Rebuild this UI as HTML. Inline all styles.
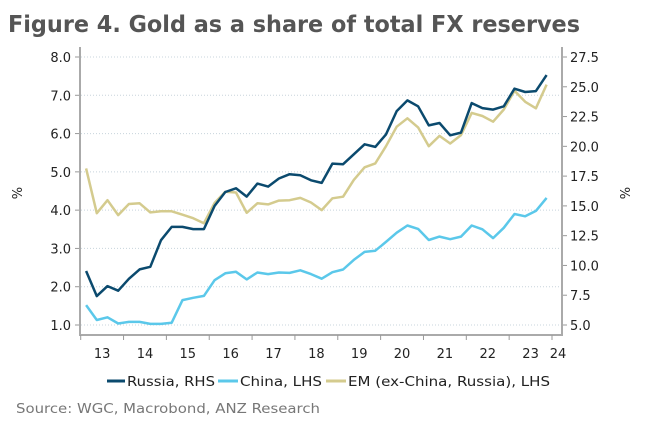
<!DOCTYPE html>
<html><head><meta charset="utf-8"><style>
html,body{margin:0;padding:0;background:#fff;}
svg{display:block;font-family:"DejaVu Sans","Liberation Sans",sans-serif;}
</style></head><body>
<svg id="chart" width="648" height="426" viewBox="0 0 648 426">
<text x="8" y="32" font-size="23" font-weight="bold" fill="#555" textLength="572" lengthAdjust="spacingAndGlyphs">Figure 4. Gold as a share of total FX reserves</text>
<g id="grid"></g>
<g id="axes"></g>
<g id="series"></g>
<text x="22" y="193" font-size="13" fill="#222" text-anchor="middle" transform="rotate(-90 22 193)">%</text>
<text x="630" y="193" font-size="13" fill="#222" text-anchor="middle" transform="rotate(-90 630 193)">%</text>
<g font-size="13" fill="#222">
<g><line x1="107" y1="381" x2="125" y2="381" stroke="#0b4a6e" stroke-width="3"/><text x="127" y="386" textLength="88" lengthAdjust="spacingAndGlyphs">Russia, RHS</text></g>
<g><line x1="218" y1="381" x2="238" y2="381" stroke="#5bc8ea" stroke-width="3"/><text x="240" y="386" textLength="82" lengthAdjust="spacingAndGlyphs">China, LHS</text></g>
<g><line x1="326" y1="381" x2="346" y2="381" stroke="#d4cb8e" stroke-width="3"/><text x="348" y="386" textLength="202" lengthAdjust="spacingAndGlyphs">EM (ex-China, Russia), LHS</text></g>
</g>
<text x="16" y="413" font-size="13" fill="#777" textLength="304" lengthAdjust="spacingAndGlyphs">Source: WGC, Macrobond, ANZ Research</text>
</svg>
<script>
const years = ["13","14","15","16","17","18","19","20","21","22","23","24"];
const leftTicks = [1,2,3,4,5,6,7,8];
const rightTicks = [5,7.5,10,12.5,15,17.5,20,22.5,25,27.5];
const russia = [9.53,7.43,8.27,7.88,8.88,9.67,9.89,12.12,13.24,13.24,13.05,13.05,15.0,16.17,16.48,15.78,16.87,16.62,17.3,17.66,17.57,17.15,16.93,18.55,18.5,19.33,20.17,19.95,21.0,22.96,23.86,23.36,21.76,21.96,20.93,21.15,23.63,23.21,23.08,23.36,24.84,24.56,24.64,25.98];
const china = [1.52,1.13,1.2,1.04,1.08,1.08,1.03,1.03,1.06,1.65,1.71,1.76,2.17,2.35,2.39,2.19,2.37,2.33,2.37,2.36,2.43,2.33,2.21,2.38,2.45,2.7,2.91,2.94,3.17,3.41,3.6,3.51,3.22,3.31,3.24,3.31,3.6,3.5,3.27,3.54,3.9,3.84,3.98,4.32];
const em = [5.09,3.92,4.26,3.87,4.16,4.18,3.94,3.97,3.97,3.88,3.79,3.66,4.19,4.48,4.46,3.93,4.18,4.15,4.25,4.26,4.32,4.2,4.0,4.31,4.35,4.79,5.12,5.22,5.67,6.18,6.4,6.16,5.67,5.94,5.74,5.96,6.54,6.46,6.31,6.63,7.12,6.83,6.66,7.28];

const NS="http://www.w3.org/2000/svg";
const X0=80.7, X1=552, T0=2013, T1=2024;
const yTop=57, yBot=325;
const xs=t=>X0+(t-T0)*(X1-X0)/(T1-T0);
const yl=v=>yBot-(v-1)*(yBot-yTop)/7;
const yr=v=>yBot-(v-5)*(yBot-yTop)/22.5;
function mk(tag,attrs,parent){const e=document.createElementNS(NS,tag);for(const k in attrs)e.setAttribute(k,attrs[k]);parent.appendChild(e);return e;}
const grid=document.getElementById('grid'),axes=document.getElementById('axes'),ser=document.getElementById('series');
leftTicks.forEach(v=>{
  const g=mk('line',{x1:81,x2:561,y1:yl(v),y2:yl(v),stroke:'#c8d4dc','stroke-width':1,'stroke-dasharray':'1,2'},grid);
  
  
  mk('line',{x1:75,x2:80,y1:yl(v),y2:yl(v),stroke:'#999'},axes);
  const t=mk('text',{x:71,y:yl(v)+5,'font-size':13,fill:'#222','text-anchor':'end'},axes);
  t.textContent=v.toFixed(1);
  
  
});
rightTicks.forEach(v=>{
  mk('line',{x1:562,x2:567,y1:yr(v),y2:yr(v),stroke:'#999'},axes);
  const t=mk('text',{x:570,y:yr(v)+5,'font-size':13,fill:'#222'},axes);
  t.textContent=v.toFixed(1);
  
  
});
mk('line',{x1:80,x2:80,y1:47,y2:335,stroke:'#aaa','stroke-width':2},axes);
mk('line',{x1:562,x2:562,y1:47,y2:335,stroke:'#aaa','stroke-width':2},axes);
mk('line',{x1:79,x2:563,y1:335,y2:335,stroke:'#aaa','stroke-width':2},axes);
years.forEach((y,i)=>{
  const t0=T0+i;
  mk('line',{x1:xs(t0),x2:xs(t0),y1:335,y2:340,stroke:'#999'},axes);
  const cx = (i < years.length-1) ? xs(t0+0.5) : xs(t0)+6;
  const t=mk('text',{x:cx,y:358,'font-size':13,fill:'#222','text-anchor':'middle'},axes);
  t.textContent=y;
  
  
});
function line(arr,fy,color,name){
  const pts=arr.map((v,i)=>xs(T0+0.125+i*0.25).toFixed(1)+','+fy(v).toFixed(1)).join(' ');
  const p=mk('polyline',{points:pts,fill:'none',stroke:color,'stroke-width':2.5,'stroke-linejoin':'round'},ser);
  
  
}
line(em,yl,'#d4cb8e','em-line');
line(china,yl,'#5bc8ea','china-line');
line(russia,yr,'#0b4a6e','russia-line');
</script>
</body></html>
